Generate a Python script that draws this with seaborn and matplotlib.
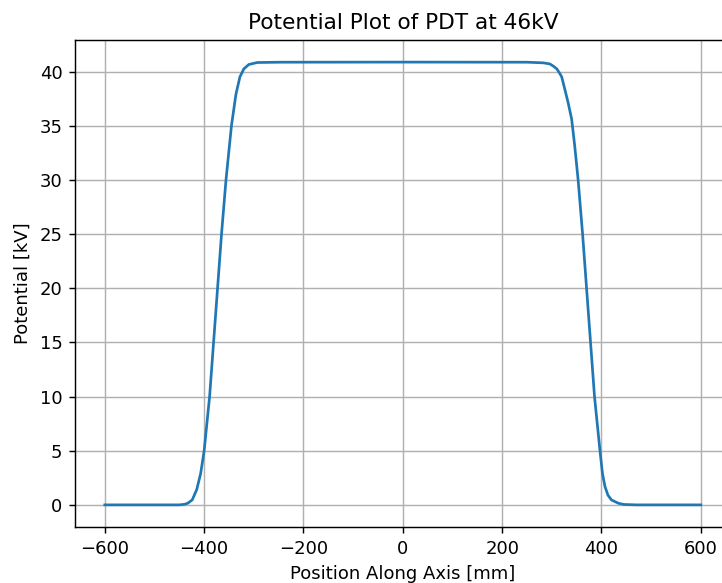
import matplotlib
matplotlib.use("Agg")
import matplotlib.pyplot as plt
import seaborn as sns
import pandas as pd

# Axial potential profile of the PDT column (position in mm, potential in kV)
position_mm = [
    -600, -450, -440, -433, -424, -415, -407, -400, -389, -381, -373, -365,
    -356, -345, -336, -328, -320, -310, -293, -246, 0, 250, 283, 296, 303,
    310, 315, 320, 326, 333, 340, 346, 353, 362, 370, 378, 386, 397, 402,
    407, 413, 420, 434, 445, 470, 600,
]
potential_kv = [
    0.0, 0.0, 0.05, 0.15, 0.46, 1.4, 2.9, 5.0, 10.0, 15.0, 20.0, 25.0,
    30.0, 35.0, 37.9, 39.5, 40.25, 40.65, 40.83, 40.86, 40.87, 40.86, 40.8,
    40.7, 40.5, 40.25, 39.9, 39.5, 38.4, 37.1, 35.6, 33.2, 30.0, 25.0, 20.0,
    15.0, 10.0, 5.0, 2.9, 1.7, 0.9, 0.46, 0.15, 0.04, 0.0, 0.0,
]

df = pd.DataFrame({"position": position_mm, "potential": potential_kv})

DPI = 130
fig = plt.figure(figsize=(722 / DPI, 583 / DPI), dpi=DPI)
ax = fig.add_axes([0.1039, 0.0961, 0.908, 0.8353])

sns.lineplot(data=df, x="position", y="potential", ax=ax,
             color="#1f77b4", linewidth=1.5)

ax.set_xlim(-660, 660)
ax.set_ylim(-2.04, 42.91)
ax.set_xticks([-600, -400, -200, 0, 200, 400, 600])
ax.set_yticks([0, 5, 10, 15, 20, 25, 30, 35, 40])
ax.grid(True, color="#b0b0b0", linewidth=0.8)
ax.set_axisbelow(True)

ax.set_title("Potential Plot of PDT at 46kV", fontsize=12)
ax.set_xlabel("Position Along Axis [mm]", fontsize=10)
ax.set_ylabel("Potential [kV]", fontsize=10)

fig.savefig("out.png", dpi=DPI)
